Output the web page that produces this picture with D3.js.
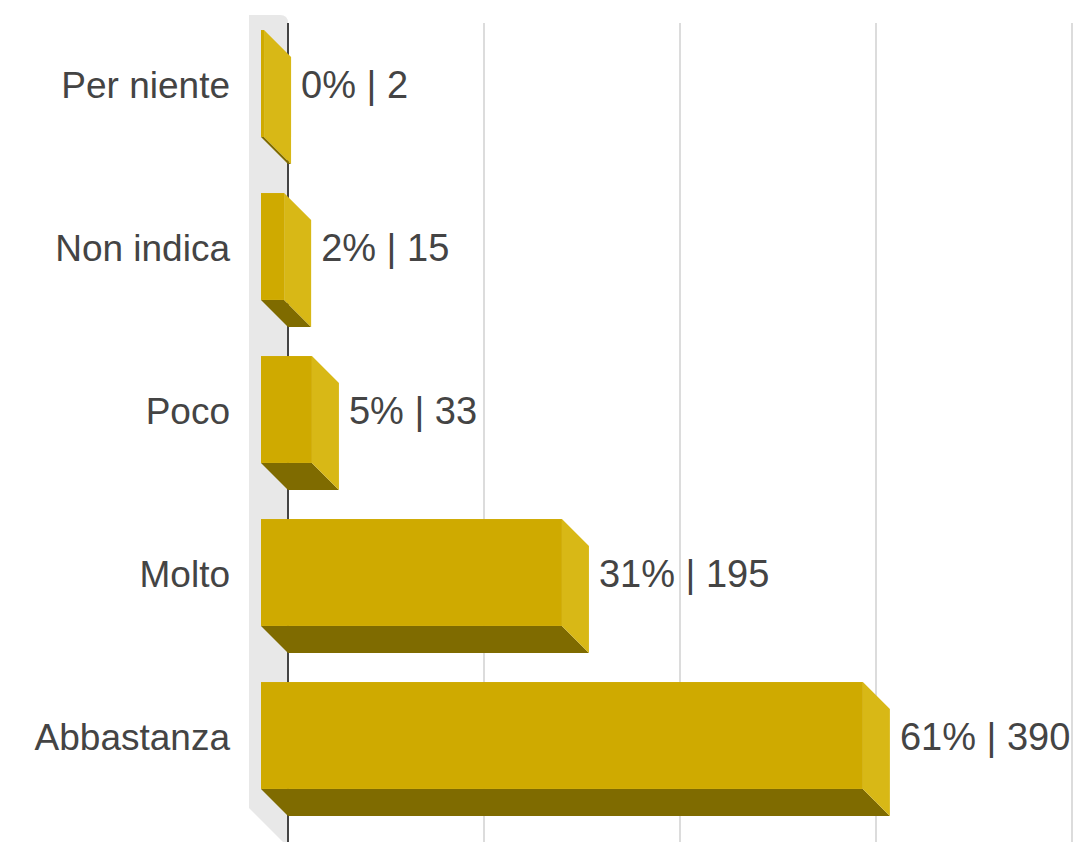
<!DOCTYPE html>
<html>
<head>
<meta charset="utf-8">
<script src="https://cdn.jsdelivr.net/npm/d3@7"></script>
<style>
  html, body { margin: 0; padding: 0; background: #fff; }
  svg { display: block; }
  text { font-family: "Liberation Sans", Arial, Helvetica, sans-serif; fill: #444; }
</style>
</head>
<body>
<svg id="chart" width="1073" height="842"></svg>
<script>
const categories = ["Per niente", "Non indica", "Poco", "Molto", "Abbastanza"];
const counts = [2, 15, 33, 195, 390];
const tickValues = [0, 20, 40, 60, 80];

const W = 1073, H = 842;
const depth = 27;
const svg = d3.select("#chart");

const total = d3.sum(counts);
const data = categories.map((c, i) => ({ cat: c, n: counts[i], pct: counts[i] / total * 100 }));

// back-plane x scale (percent)
const x = d3.scaleLinear().domain([0, 80]).range([288, 1072]);
const y = d3.scaleBand().domain(categories).range([2, 817]).paddingInner(0.344).paddingOuter(0.172);

// left wall
svg.append("path")
  .attr("d", `M249,15 L280,15 Q288,15 288,23 L288,842 L283,842 L249,808 Z`)
  .attr("fill", "#e8e8e8");

// gridlines
svg.append("g").selectAll("line").data(tickValues.slice(1)).join("line")
  .attr("x1", d => x(d)).attr("x2", d => x(d))
  .attr("y1", 23).attr("y2", H)
  .attr("stroke", "#d0d0d0").attr("stroke-width", 1.5);

// axis line
svg.append("line")
  .attr("x1", x(0)).attr("x2", x(0)).attr("y1", 23).attr("y2", H)
  .attr("stroke", "#444").attr("stroke-width", 2);

// bars
const g = svg.append("g");
data.forEach(d => {
  const x0 = x(0) - depth;
  const x1 = x(d.pct) - depth;
  const y0 = y(d.cat);
  const y1 = y0 + y.bandwidth();
  const bar = g.append("g");
  // bottom face
  bar.append("path")
    .attr("d", `M${x0},${y1} L${x1},${y1} L${x1 + depth},${y1 + depth} L${x0 + depth},${y1 + depth} Z`)
    .attr("fill", "#7f6b00");
  // side face
  bar.append("path")
    .attr("d", `M${x1},${y0} L${x1 + depth},${y0 + depth} L${x1 + depth},${y1 + depth} L${x1},${y1} Z`)
    .attr("fill", "#d8b816");
  // front face
  bar.append("rect")
    .attr("x", x0).attr("y", y0)
    .attr("width", x1 - x0).attr("height", y1 - y0)
    .attr("fill", "#cfaa00");
  // value label
  svg.append("text")
    .attr("x", x1 + depth + 10)
    .attr("y", y0 + y.bandwidth() / 2)
    .attr("dy", "0.38em")
    .attr("font-size", 38)
    .text(`${Math.round(d.pct)}% | ${d.n}`);
  // category label
  svg.append("text")
    .attr("x", 230)
    .attr("y", y0 + y.bandwidth() / 2)
    .attr("dy", "0.38em")
    .attr("text-anchor", "end")
    .attr("font-size", 37)
    .text(d.cat);
});
</script>
</body>
</html>
